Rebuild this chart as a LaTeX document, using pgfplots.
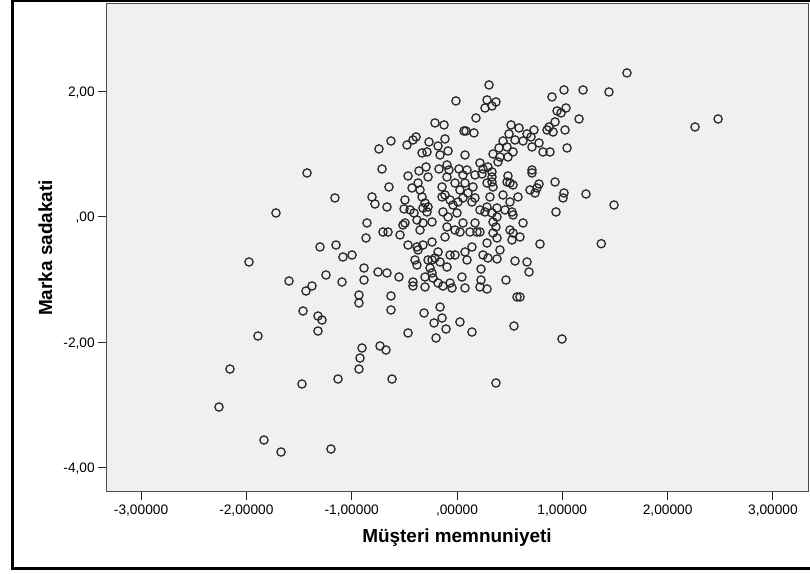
\documentclass[border=0pt]{standalone}
\usepackage{fontspec}
\setmainfont{Liberation Sans}
\usepackage{pgfplots}
\pgfplotsset{compat=1.18}
\definecolor{plotbg}{HTML}{F0F0F0}
\definecolor{framegray}{HTML}{4D4D4D}
\definecolor{markgray}{HTML}{262626}
\begin{document}
\begin{tikzpicture}[x=0.75pt,y=0.75pt]
\useasboundingbox (0,0) rectangle (810,574);
\draw[line width=2.25pt] (815,573) -- (12,573) -- (12,5) -- (815,5);
\begin{axis}[
  at={(79.5pt,61.5pt)}, anchor=south west,
  scale only axis, width=526.5pt, height=366pt,
  xmin=-3.333, xmax=3.333, ymin=-4.382, ymax=3.385,
  axis background/.style={fill=plotbg},
  axis line style={framegray, line width=0.75pt},
  xtick={-3,-2,-1,0,1,2,3},
  xticklabels={{-3,00000},{-2,00000},{-1,00000},{,00000},{1,00000},{2,00000},{3,00000}},
  ytick={-4,-2,0,2},
  yticklabels={{-4,00},{-2,00},{,00},{2,00}},
  xtick pos=lower, ytick pos=left,
  tick align=outside, major tick length=6pt,
  tick style={black!85, line width=0.75pt},
  minor tick num=0,
  tick label style={font=\fontsize{10.3}{12}\selectfont, inner sep=0pt},
  xticklabel style={anchor=base, yshift=-11.25pt},
  yticklabel style={anchor=base east, xshift=-2.25pt, yshift=-3.75pt},
  label style={font=\bfseries\fontsize{14.2}{17}\selectfont, inner sep=0pt},
  xlabel={Müşteri memnuniyeti},
  ylabel={Marka sadakati},
  xlabel style={at={(axis description cs:0.5,-0.1045)}, anchor=base},
  ylabel style={at={(axis description cs:-0.0769,0.5)}, anchor=base},
  clip=true,
]
\addplot[only marks, mark=o, mark size=3.1pt, mark options={draw=markgray, line width=0.95pt}] coordinates {
(-1.424,0.696) (-1.159,0.298) (-1.719,0.059) (-0.855,-0.100) (-0.864,-0.339)
(-1.301,-0.482) (-1.149,-0.451) (-1.083,-0.642) (-0.997,-0.610) (-1.975,-0.721)
(-0.883,-0.817) (-1.595,-1.024) (-1.377,-1.103) (-1.434,-1.183) (-1.244,-0.928)
(-1.092,-1.040) (-0.883,-1.008) (-0.931,-1.247) (-0.931,-1.374) (-1.462,-1.501)
(-1.320,-1.581) (-1.282,-1.645) (-1.320,-1.820) (-1.890,-1.899) (-0.902,-2.090)
(-0.921,-2.250) (-0.931,-2.425) (-2.156,-2.425) (-1.472,-2.663) (-1.130,-2.584)
(-2.260,-3.030) (-1.833,-3.555) (-1.671,-3.746) (-1.197,-3.698)
(-0.010,1.842) (-0.209,1.492) (-0.123,1.460) (0.066,1.364) (0.085,1.364)
(-0.627,1.205) (-0.741,1.078) (-0.475,1.141) (-0.418,1.221) (-0.389,1.269)
(-0.266,1.189) (-0.114,1.237) (-0.180,1.125) (-0.161,0.982) (-0.085,1.046)
(-0.332,1.014) (-0.285,1.030) (0.076,0.982) (-0.712,0.759) (-0.465,0.648)
(-0.361,0.728) (-0.294,0.791) (-0.275,0.632) (-0.171,0.759) (-0.095,0.823)
(-0.076,0.743) (-0.095,0.632) (0.019,0.759) (0.057,0.664) (0.095,0.743)
(0.304,2.097) (0.285,1.858) (0.266,1.730) (0.332,1.762) (0.370,1.826)
(0.902,1.906) (1.016,2.017) (0.950,1.683) (0.988,1.651) (1.035,1.730)
(0.180,1.571) (0.161,1.333) (0.874,1.428) (0.855,1.380) (0.912,1.348)
(0.931,1.508) (1.026,1.380) (0.513,1.460) (0.589,1.412) (0.494,1.317)
(0.665,1.317) (0.731,1.380) (0.703,1.269) (0.551,1.221) (0.437,1.205)
(0.627,1.205) (0.712,1.110) (0.779,1.173) (0.817,1.030) (0.883,1.030)
(0.399,1.094) (0.475,1.110) (0.532,1.030) (0.484,0.950) (0.408,0.950)
(0.342,0.998) (0.389,0.871) (1.045,1.094) (0.218,0.855) (0.247,0.759)
(0.294,0.791) (0.332,0.712) (0.237,0.680) (0.332,0.632) (0.171,0.664)
(0.712,0.743) (0.712,0.696) (0.484,0.648)
(1.614,2.288) (1.197,2.017) (1.443,1.985) (1.159,1.555) (2.260,1.428)
(2.479,1.555) (1.225,0.361)
(-0.646,0.473) (-0.779,0.202) (-0.807,0.314) (-0.665,0.154) (-0.494,0.266)
(-0.503,0.123) (-0.446,0.107) (-0.408,0.059) (-0.427,0.457) (-0.351,0.425)
(-0.370,0.536) (-0.332,0.314) (-0.304,0.218) (-0.275,0.154) (-0.323,0.138)
(-0.285,0.075) (-0.142,0.473) (-0.114,0.345) (-0.142,0.314) (-0.066,0.266)
(-0.038,0.186) (0.010,0.234) (0.057,0.298) (0.028,0.425) (0.076,0.536)
(-0.019,0.536) (0.104,0.377) (-0.133,0.075) (-0.085,-0.005) (0.000,0.059)
(-0.380,-0.053) (-0.323,-0.100) (-0.351,-0.212) (-0.237,-0.084) (-0.513,-0.132)
(-0.494,-0.100) (-0.095,-0.164) (-0.019,-0.212) (0.028,-0.244) (-0.114,-0.323)
(-0.703,-0.244) (-0.655,-0.244) (-0.541,-0.291) (-0.237,-0.403) (-0.465,-0.451)
(-0.380,-0.482) (-0.370,-0.530) (-0.323,-0.451) (-0.180,-0.562) (-0.399,-0.689)
(-0.380,-0.769) (-0.275,-0.689) (-0.237,-0.689) (-0.209,-0.658) (-0.161,-0.721)
(-0.066,-0.610) (-0.019,-0.610) (0.076,-0.562) (0.095,-0.689) (-0.256,-0.817)
(-0.237,-0.896) (-0.095,-0.801) (-0.750,-0.880) (-0.665,-0.896) (-0.551,-0.960)
(-0.418,-1.040) (-0.418,-1.103) (-0.304,-0.960) (-0.228,-0.976) (-0.180,-1.056)
(-0.133,-1.103) (-0.066,-1.056) (-0.047,-1.135) (0.076,-1.135) (0.047,-0.960)
(-0.304,-1.119) (-0.627,-1.262)
(0.931,0.552) (1.016,0.377) (1.007,0.298) (0.940,0.075) (0.779,0.520)
(0.693,0.425) (0.741,0.377) (0.760,0.457) (0.579,0.314) (0.503,0.234)
(0.437,0.345) (0.342,0.473) (0.285,0.536) (0.332,0.552) (0.503,0.536)
(0.532,0.505) (0.475,0.552) (0.152,0.473) (0.171,0.298) (0.142,0.234)
(0.313,0.314) (0.218,0.107) (0.266,0.075) (0.332,0.059) (0.285,0.154)
(0.380,0.138) (0.380,-0.005) (0.342,-0.084) (0.370,-0.164) (0.456,0.107)
(0.522,0.075) (0.532,0.027) (0.627,-0.100) (0.503,-0.212) (0.532,-0.259)
(0.598,-0.323) (0.522,-0.371) (0.171,-0.100) (0.057,-0.100) (0.123,-0.244)
(0.190,-0.244) (0.218,-0.244) (0.342,-0.259) (0.380,-0.339) (0.788,-0.435)
(0.285,-0.419) (0.142,-0.482) (0.408,-0.530) (0.247,-0.610) (0.294,-0.658)
(0.380,-0.673) (0.551,-0.705) (0.665,-0.721) (0.684,-0.880) (0.228,-0.833)
(0.228,-1.008) (0.218,-1.119) (0.285,-1.151) (0.465,-1.008) (0.570,-1.278)
(0.598,-1.278)
(-0.161,-1.438) (-0.313,-1.533) (-0.627,-1.485) (-0.142,-1.613) (-0.218,-1.692)
(-0.104,-1.788) (0.028,-1.676) (0.142,-1.836) (-0.465,-1.851) (-0.199,-1.931)
(-0.731,-2.058) (-0.674,-2.122) (-0.617,-2.584) (0.370,-2.647) (0.541,-1.740)
(0.997,-1.947) (1.491,0.186) (1.370,-0.430)
};
\end{axis}
\end{tikzpicture}
\end{document}
